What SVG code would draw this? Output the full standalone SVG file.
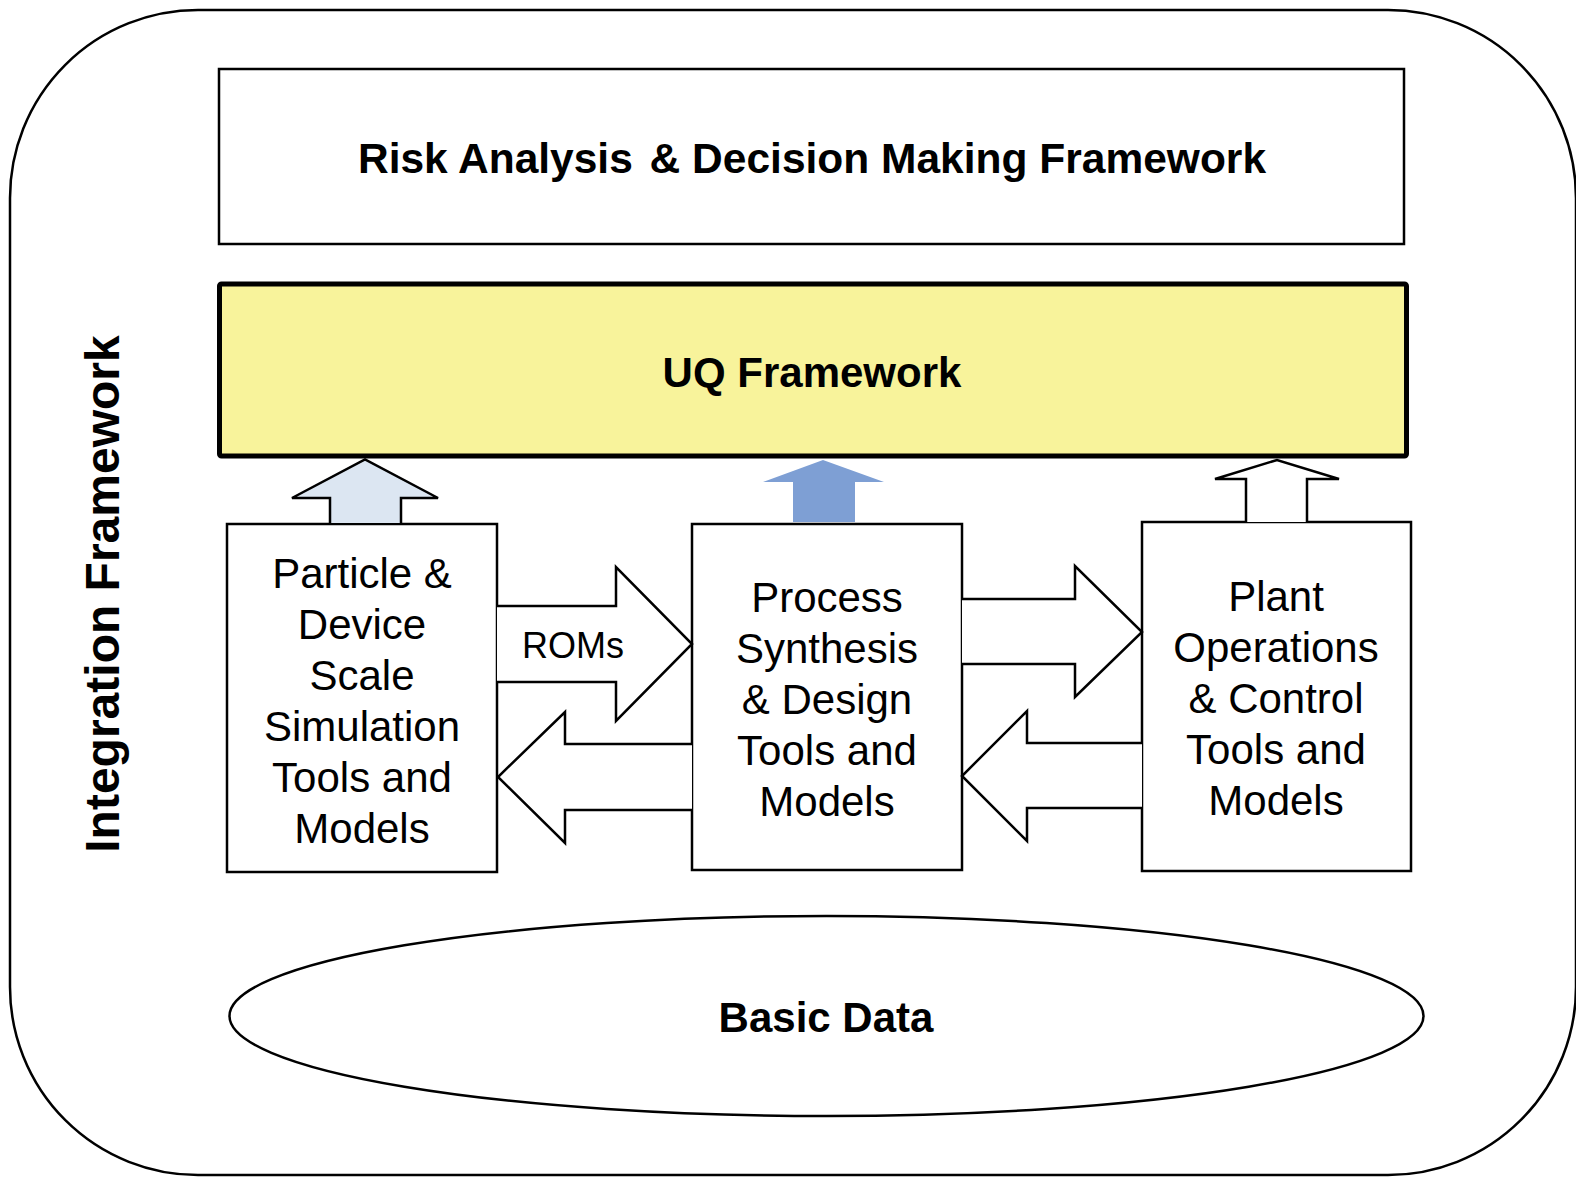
<svg xmlns="http://www.w3.org/2000/svg" width="1576" height="1178" viewBox="0 0 1576 1178">
  <style>
    .line { fill: #ffffff; stroke: #000000; stroke-width: 2.5; stroke-linejoin: miter; }
    .bold { font-family: "Liberation Sans", Arial, sans-serif; font-weight: bold; fill: #000000; text-anchor: middle; }
    .label { font-family: "Liberation Sans", Arial, sans-serif; font-size: 42px; fill: #000000; text-anchor: middle; }
    .arrow { stroke: #000000; stroke-width: 2.5; stroke-linejoin: miter; }
  </style>

  <!-- outer integration frame -->
  <g id="integration-framework">
    <rect x="10" y="10" width="1566" height="1165" rx="188" ry="188" fill="#ffffff" stroke="#000000" stroke-width="2.5"/>
    <text class="bold" font-size="48" transform="translate(119,594) rotate(-90)" x="0" y="0">Integration Framework</text>
  </g>

  <g id="risk-analysis">
    <rect class="line" x="219" y="69" width="1185" height="175"/>
    <text class="bold" font-size="42.5" x="812" y="173">Risk Analysis <tspan dx="5">&amp; Decision Making Framework</tspan></text>
  </g>

  <g id="uq-framework">
    <rect x="219.5" y="284" width="1187" height="172" rx="2" fill="#f8f39b" stroke="#000000" stroke-width="5"/>
    <text class="bold" font-size="42" x="812" y="387">UQ Framework</text>
  </g>

  <g id="particle-device">
    <rect class="line" x="227" y="524" width="270" height="348"/>
    <text class="label"><tspan x="362" y="588">Particle &amp;</tspan><tspan x="362" y="639">Device</tspan><tspan x="362" y="690">Scale</tspan><tspan x="362" y="741">Simulation</tspan><tspan x="362" y="792">Tools and</tspan><tspan x="362" y="843">Models</tspan></text>
  </g>

  <g id="process-synthesis">
    <rect class="line" x="692" y="524" width="270" height="346"/>
    <text class="label"><tspan x="827" y="612">Process</tspan><tspan x="827" y="663">Synthesis</tspan><tspan x="827" y="714">&amp; Design</tspan><tspan x="827" y="765">Tools and</tspan><tspan x="827" y="816">Models</tspan></text>
  </g>

  <g id="plant-operations">
    <rect class="line" x="1142" y="522" width="269" height="349"/>
    <text class="label"><tspan x="1276" y="611">Plant</tspan><tspan x="1276" y="662">Operations</tspan><tspan x="1276" y="713">&amp; Control</tspan><tspan x="1276" y="764">Tools and</tspan><tspan x="1276" y="815">Models</tspan></text>
  </g>

  <g id="basic-data">
    <ellipse cx="826.5" cy="1016" rx="597" ry="100" fill="#ffffff" stroke="#000000" stroke-width="2.5"/>
    <text class="bold" font-size="42" x="826" y="1032">Basic Data</text>
  </g>

  <g id="connectors">
    <!-- upward arrows into the UQ framework -->
    <path class="arrow" fill="#dce6f2" d="M330,523 V498 H292 L365,459.5 L438,498 H401 V523"/>
    <path fill="#7e9fd4" stroke="none" d="M793,522 V482 H763 L823,460 L884,482 H855 V522 Z"/>
    <path class="arrow" fill="#ffffff" d="M1246,522 V479 H1215 L1277,460 L1339,479 H1307 V522"/>

    <!-- particle/device <-> process synthesis -->
    <path class="arrow" fill="#ffffff" d="M497,606 H616 V567 L692,644 L616,721 V682 H497"/>
    <text class="label" x="573" y="658" style="font-size:36px">ROMs</text>
    <path class="arrow" fill="#ffffff" d="M692,744 H565 V712 L498,777 L565,843 V810 H692"/>

    <!-- process synthesis <-> plant operations -->
    <path class="arrow" fill="#ffffff" d="M962,599 H1075 V566 L1142,632 L1075,697 V664 H962"/>
    <path class="arrow" fill="#ffffff" d="M1142,743 H1027 V711 L962,776 L1027,841 V808 H1142"/>
  </g>
</svg>
